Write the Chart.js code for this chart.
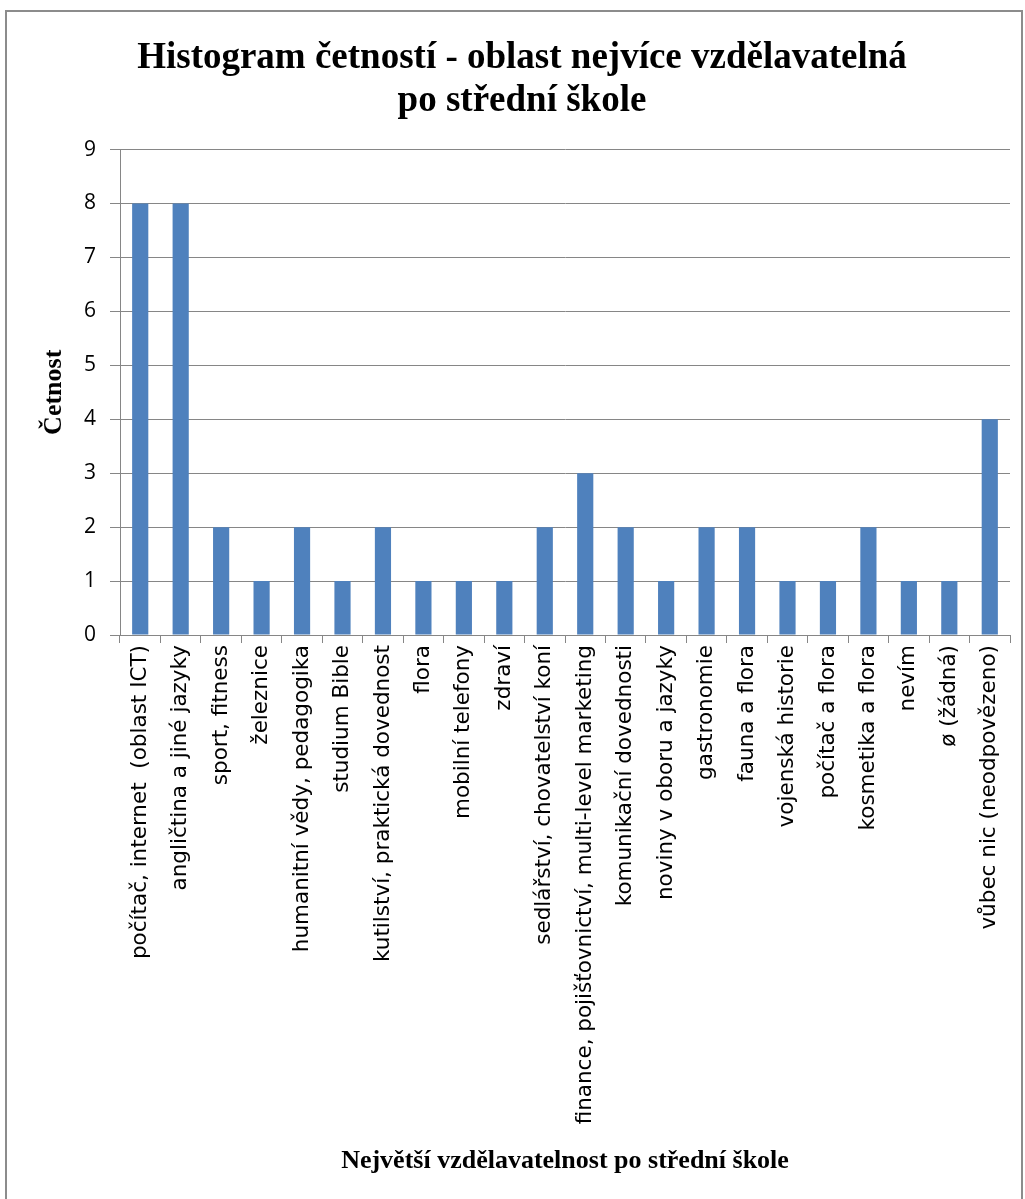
<!DOCTYPE html>
<html>
<head>
<meta charset="utf-8">
<script src="https://cdn.jsdelivr.net/npm/chart.js@4/dist/chart.umd.min.js"></script>
<style>
  body { margin: 0; background: #fff; }
  #frame { position: absolute; left: 5px; top: 10px; width: 1014px; height: 1200px; border: 2px solid #8c8c8c; }
  #wrap { position: absolute; left: 0; top: 0; width: 1025px; height: 1199px; }
</style>
</head>
<body>
<div id="frame"></div>
<div id="wrap"><canvas id="histChart"></canvas></div>
<script>
// --- DONNÉES ---
const oblasti = [
    "počítač, internet  (oblast ICT)",
    "angličtina a jiné jazyky",
    "sport, fitness",
    "železnice",
    "humanitní vědy, pedagogika",
    "studium Bible",
    "kutilství, praktická dovednost",
    "flora",
    "mobilní telefony",
    "zdraví",
    "sedlářství, chovatelství koní",
    "finance, pojišťovnictví, multi-level marketing",
    "komunikační dovednosti",
    "noviny v oboru a jazyky",
    "gastronomie",
    "fauna a flora",
    "vojenská historie",
    "počítač a flora",
    "kosmetika a flora",
    "nevím",
    "ø (žádná)",
    "vůbec nic (neodpovězeno)"
];
const cetnosti = [8, 8, 2, 1, 2, 1, 2, 1, 1, 1, 2, 3, 2, 1, 2, 2, 1, 1, 2, 1, 1, 4];
const titulek = ["Histogram četností - oblast nejvíce vzdělavatelná", "po střední škole"];
const osaX = "Největší vzdělavatelnost po střední škole";
const osaY = "Četnost";

const serif = "'Liberation Serif', 'Times New Roman', serif";
const sans = "'Open Sans', sans-serif";
const sedá = "#868686";

const ctx = document.getElementById("histChart").getContext("2d");
new Chart(ctx, {
    type: 'bar',
    data: {
        labels: oblasti,
        datasets: [{
            label: osaY,
            data: cetnosti,
            backgroundColor: "#4F81BD",
            barPercentage: 0.4,
            categoryPercentage: 1.0
        }]
    },
    options: {
        responsive: true,
        maintainAspectRatio: false,
        animation: false,
        layout: { padding: { left: 34, right: 15, top: 0, bottom: 0 } },
        plugins: {
            legend: { display: false },
            tooltip: { enabled: false },
            title: {
                display: true,
                text: titulek,
                color: "#000",
                font: { family: serif, size: 37, weight: 'bold', lineHeight: 1.17 },
                padding: { top: 37, bottom: 26 }
            }
        },
        scales: {
            x: {
                afterFit: s => { s.height = 1199 - 635; },
                grid: { display: true, drawOnChartArea: false, color: sedá, tickLength: 8, offset: true },
                border: { color: sedá },
                ticks: {
                    color: "#000",
                    font: { family: "'DejaVu Sans', sans-serif", size: 21.5 },
                    minRotation: 90, maxRotation: 90,
                    padding: 2,
                    autoSkip: false
                },
                title: {
                    display: true,
                    text: osaX,
                    color: "#000",
                    font: { family: serif, size: 26, weight: 'bold' },
                    padding: { top: 0, bottom: 22 }
                }
            },
            y: {
                min: 0, max: 9,
                afterFit: s => { s.width = 120 - 34; },
                grid: { color: sedá, tickLength: 10 },
                border: { color: sedá },
                ticks: {
                    stepSize: 1,
                    color: "#000",
                    font: { family: sans, size: 21 },
                    padding: 14
                },
                title: {
                    display: true,
                    text: osaY,
                    color: "#000",
                    font: { family: serif, size: 26, weight: 'bold' },
                    padding: { top: 5, bottom: 0 }
                }
            }
        }
    }
});
</script>
</body>
</html>
